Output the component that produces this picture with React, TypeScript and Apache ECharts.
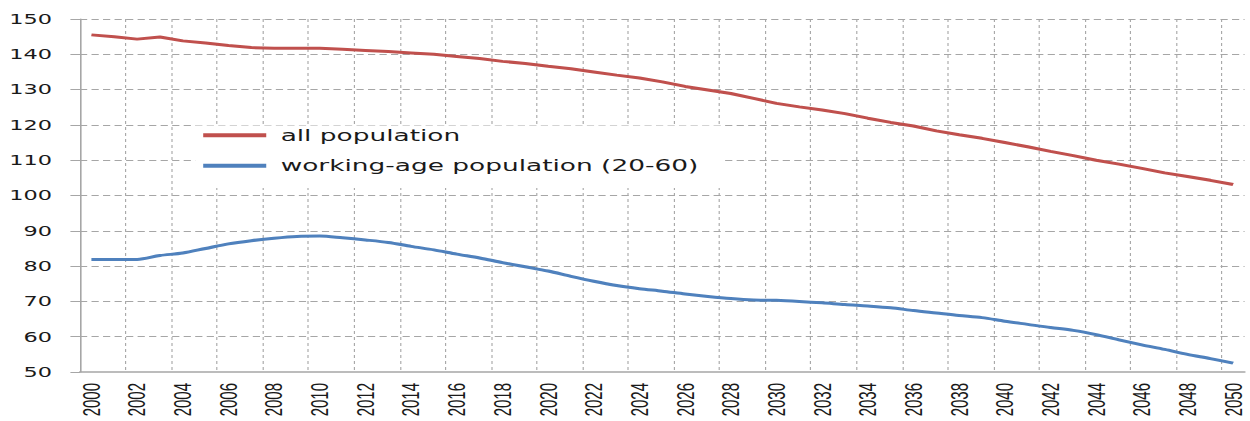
import React, { useEffect, useRef } from "react";
import * as echarts from "echarts";

// Data (millions)
const years: string[] = [];
for (let y = 2000; y <= 2050; y++) years.push(String(y));

const allPopulation: number[] = [
  145.5, 145.0, 144.3, 144.9, 143.8, 143.2, 142.5, 141.9, 141.7, 141.7,
  141.7, 141.4, 141.1, 140.8, 140.4, 140.0, 139.4, 138.8, 138.0, 137.4,
  136.6, 135.9, 135.0, 134.1, 133.3, 132.2, 130.9, 129.9, 128.9, 127.5,
  126.1, 125.1, 124.2, 123.2, 121.9, 120.7, 119.7, 118.3, 117.2, 116.2,
  115.0, 113.8, 112.5, 111.3, 110.0, 108.9, 107.7, 106.4, 105.4, 104.3,
  103.1,
];

const workingAge: number[] = [
  81.9, 81.9, 81.9, 83.0, 83.7, 85.0, 86.3, 87.2, 87.9, 88.4,
  88.5, 88.0, 87.4, 86.7, 85.6, 84.6, 83.4, 82.3, 81.0, 79.8,
  78.6, 77.1, 75.7, 74.5, 73.6, 72.9, 72.1, 71.4, 70.8, 70.4,
  70.3, 70.0, 69.6, 69.1, 68.7, 68.2, 67.4, 66.7, 66.0, 65.4,
  64.4, 63.5, 62.6, 61.8, 60.6, 59.1, 57.7, 56.4, 55.0, 53.8,
  52.5,
];

const seriesNames = ["all population", "working-age population (20-60)"];
const seriesColors = ["#C0504D", "#4F81BD"];

const SCALE_X = 1.6;
const BASE_W = 1250 / SCALE_X;
const H = 421;

export default function App() {
  const ref = useRef<HTMLDivElement>(null);

  useEffect(() => {
    document.body.style.margin = "0";
    document.body.style.overflow = "hidden";
    if (!ref.current) return;
    const chart = echarts.init(ref.current, undefined, { renderer: "svg" });
    const gridColor = "#A6A6A6";
    chart.setOption({
      animation: false,
      backgroundColor: "#ffffff",
      grid: { left: 50, right: BASE_W - 778.1, top: 19, bottom: 49 },
      legend: {
        orient: "vertical",
        left: 122,
        top: 125.5,
        padding: [1.25, 16, 13.75, 5],
        itemGap: 13.5,
        itemWidth: 39.4,
        itemHeight: 4,
        icon: "rect",
        backgroundColor: "#ffffff",
        data: seriesNames,
        textStyle: {
          fontFamily: "DejaVu Sans",
          fontSize: 16.5,
          color: "#1a1a1a",
          padding: [0, 0, 0, 4],
        },
      },
      xAxis: {
        type: "category",
        data: years,
        boundaryGap: true,
        axisLine: { lineStyle: { color: gridColor, width: 1.5 } },
        axisTick: {
          interval: 1,
          length: 5,
          lineStyle: { color: gridColor, width: 0.8 },
        },
        axisLabel: {
          interval: 1,
          rotate: 90,
          margin: 11,
          fontFamily: "Liberation Sans",
          fontSize: 15,
          color: "#1a1a1a",
        },
        splitLine: {
          show: true,
          interval: 1,
          showMinLine: false,
          showMaxLine: false,
          lineStyle: { color: gridColor, width: 0.7, type: [3, 3] },
        },
      },
      yAxis: {
        type: "value",
        min: 50,
        max: 150,
        interval: 10,
        axisLine: { show: true, lineStyle: { color: gridColor, width: 1 } },
        axisTick: { show: true, length: 6, lineStyle: { color: gridColor } },
        axisLabel: {
          margin: 17.5,
          fontFamily: "DejaVu Sans",
          fontSize: 14,
          color: "#1a1a1a",
        },
        splitLine: {
          show: true,
          showMinLine: false,
          lineStyle: { color: gridColor, width: 1, type: [4.5, 2.7] },
        },
      },
      series: [
        {
          name: seriesNames[0],
          type: "line",
          data: allPopulation,
          symbol: "none",
          color: seriesColors[0],
          lineStyle: { width: 3, color: seriesColors[0] },
        },
        {
          name: seriesNames[1],
          type: "line",
          data: workingAge,
          symbol: "none",
          smooth: 0.3,
          color: seriesColors[1],
          lineStyle: { width: 3, color: seriesColors[1] },
        },
      ],
    });
    return () => chart.dispose();
  }, []);

  return (
    <div
      ref={ref}
      style={{
        position: "absolute",
        left: 0,
        top: 0,
        width: BASE_W,
        height: H,
        transform: `scaleX(${SCALE_X})`,
        transformOrigin: "0 0",
      }}
    />
  );
}
